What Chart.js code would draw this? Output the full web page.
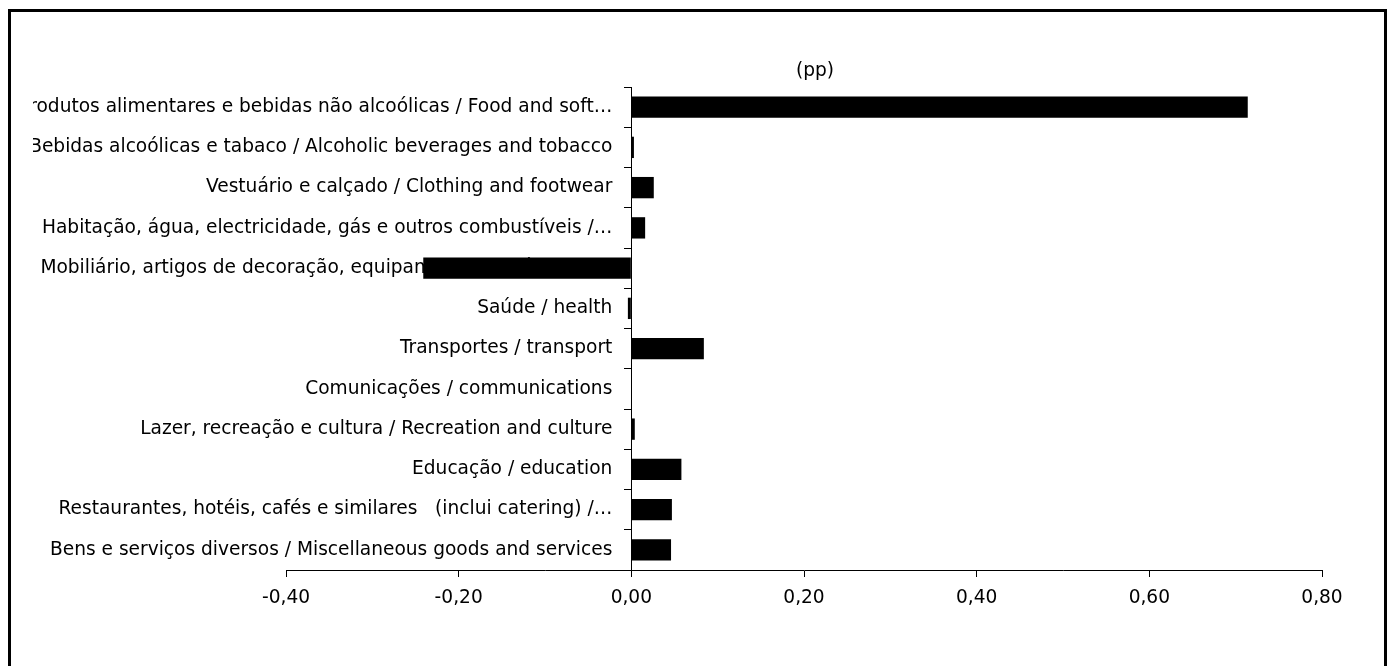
<!DOCTYPE html>
<html>
<head>
<meta charset="utf-8">
<script src="https://cdn.jsdelivr.net/npm/chart.js@4.4.1/dist/chart.umd.min.js"></script>
<style>
    html, body { margin: 0; padding: 0; background: #fff; overflow: hidden; }
    #marco { position: absolute; left: 8px; top: 9px; width: 1373px; height: 720px; border: 3px solid #000; }
    #zona { position: absolute; left: 33px; top: 12px; width: 1351px; height: 654px; }
</style>
</head>
<body>
<div id="marco"></div>
<div id="zona"><canvas id="grafico"></canvas></div>
<script>
// =============================================
//     CONTRIBUTOS PARA A VARIAÇÃO (pp)
// =============================================
const categorias = [
    "Produtos alimentares e bebidas não alcoólicas / Food and soft…",
    "Bebidas alcoólicas e tabaco / Alcoholic beverages and tobacco",
    "Vestuário e calçado / Clothing and footwear",
    "Habitação, água, electricidade, gás e outros combustíveis /…",
    "Mobiliário, artigos de decoração, equipamento doméstico e…",
    "Saúde / health",
    "Transportes / transport",
    "Comunicações / communications",
    "Lazer, recreação e cultura / Recreation and culture",
    "Educação / education",
    "Restaurantes, hotéis, cafés e similares   (inclui catering) /…",
    "Bens e serviços diversos / Miscellaneous goods and services"
];
const contributos = [0.714, 0.003, 0.026, 0.016, -0.241, -0.004, 0.084, 0, 0.004, 0.058, 0.047, 0.046];
const ticksX = [-0.4, -0.2, 0, 0.2, 0.4, 0.6, 0.8];
const titulo = "(pp)";

const FUENTE = '"DejaVu Sans", Tahoma, sans-serif';
const TAM = 18.6;

// etiquetas das categorias junto ao eixo do zero (desenhadas antes das barras)
const pluginEtiquetas = {
    id: 'etiquetas',
    beforeDatasetsDraw(chart) {
        const { ctx, scales: { x, y } } = chart;
        const xCero = x.getPixelForValue(0);
        ctx.save();
        ctx.font = TAM + 'px ' + FUENTE;
        ctx.fillStyle = '#000';
        ctx.textAlign = 'right';
        ctx.textBaseline = 'middle';
        categorias.forEach((c, i) => ctx.fillText(c, xCero - 19, y.getPixelForValue(i)));
        ctx.restore();
    },
    afterDraw(chart) {
        const { ctx, chartArea } = chart;
        ctx.save();
        ctx.font = TAM + 'px ' + FUENTE;
        ctx.fillStyle = '#000';
        ctx.textAlign = 'center';
        ctx.textBaseline = 'middle';
        ctx.fillText(titulo, (chartArea.left + chartArea.right) / 2 + 11, chartArea.top - 16);
        ctx.restore();
    }
};

new Chart(document.getElementById('grafico').getContext('2d'), {
    type: 'bar',
    data: {
        labels: categorias,
        datasets: [{
            data: contributos,
            backgroundColor: '#000',
            borderWidth: 0,
            barPercentage: 0.53,
            categoryPercentage: 1
        }]
    },
    options: {
        indexAxis: 'y',
        responsive: true,
        maintainAspectRatio: false,
        animation: false,
        layout: { padding: { left: 253, right: 62, top: 75, bottom: 0 } },
        plugins: {
            legend: { display: false },
            tooltip: { enabled: false },
            title: { display: false }
        },
        scales: {
            x: {
                type: 'linear',
                position: 'bottom',
                min: -0.4,
                max: 0.8,
                afterBuildTicks: s => { s.ticks = ticksX.map(v => ({ value: v })); },
                afterFit: s => { s.height = 96; },
                grid: { drawOnChartArea: false, drawTicks: true, tickLength: 7, color: '#000', lineWidth: 1 },
                border: { display: true, color: '#000', width: 1 },
                ticks: {
                    color: '#000',
                    padding: 10,
                    font: { family: FUENTE, size: TAM },
                    callback: v => v.toFixed(2).replace('.', ',')
                }
            },
            y: {
                position: { x: 0 },
                grid: { drawOnChartArea: false, drawTicks: true, tickLength: 7, color: '#000', lineWidth: 1, offset: true },
                border: { display: true, color: '#000', width: 1 },
                ticks: { display: false }
            }
        }
    },
    plugins: [pluginEtiquetas]
});
</script>
</body>
</html>
